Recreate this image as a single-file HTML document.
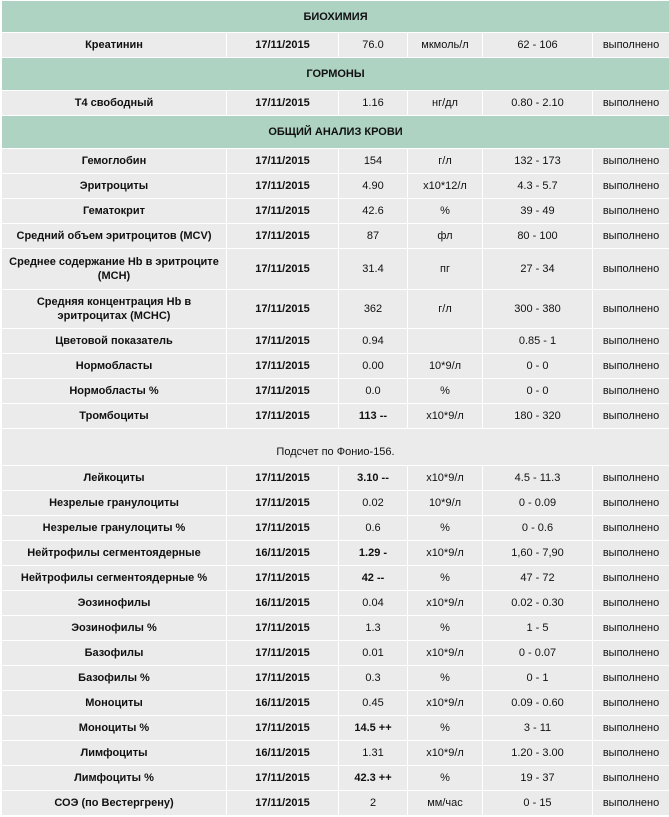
<!DOCTYPE html><html><head><meta charset="utf-8"><style>
body{margin:0;background:#fff;width:669px;height:817px;overflow:hidden}
table{border-collapse:separate;border-spacing:1px;margin-left:1px;width:667px;table-layout:fixed;font-family:"Liberation Sans",Arial,sans-serif;font-size:11px;color:#111}
td{background:#ebebeb;text-align:center;padding:0 4px;height:24px;line-height:14px}
tr.h td{background:#aed3c3;font-weight:bold;height:31px}
td:nth-child(1),td:nth-child(2){font-weight:bold}
.b{font-weight:bold}
tr.n td{font-weight:normal;vertical-align:bottom;padding-bottom:6px;height:30px}
</style></head><body><table>
<colgroup><col style="width:224px"><col style="width:111px"><col style="width:68px"><col style="width:74px"><col style="width:109px"><col style="width:76px"></colgroup>
<tr class="h"><td colspan="6">БИОХИМИЯ</td></tr>
<tr><td>Креатинин</td><td>17/11/2015</td><td>76.0</td><td>мкмоль/л</td><td>62 - 106</td><td>выполнено</td></tr>
<tr class="h"><td colspan="6" style="height:32px">ГОРМОНЫ</td></tr>
<tr><td>Т4 свободный</td><td>17/11/2015</td><td>1.16</td><td>нг/дл</td><td>0.80 - 2.10</td><td>выполнено</td></tr>
<tr class="h"><td colspan="6" style="height:32px">ОБЩИЙ АНАЛИЗ КРОВИ</td></tr>
<tr><td>Гемоглобин</td><td>17/11/2015</td><td>154</td><td>г/л</td><td>132 - 173</td><td>выполнено</td></tr>
<tr><td>Эритроциты</td><td>17/11/2015</td><td>4.90</td><td>x10*12/л</td><td>4.3 - 5.7</td><td>выполнено</td></tr>
<tr><td>Гематокрит</td><td>17/11/2015</td><td>42.6</td><td>%</td><td>39 - 49</td><td>выполнено</td></tr>
<tr><td>Средний объем эритроцитов (MCV)</td><td>17/11/2015</td><td>87</td><td>фл</td><td>80 - 100</td><td>выполнено</td></tr>
<tr><td style="height:40px">Среднее содержание Hb в эритроците (MCH)</td><td>17/11/2015</td><td>31.4</td><td>пг</td><td>27 - 34</td><td>выполнено</td></tr>
<tr><td style="height:38px;padding:0 30px">Средняя концентрация Hb в эритроцитах (MCHC)</td><td>17/11/2015</td><td>362</td><td>г/л</td><td>300 - 380</td><td>выполнено</td></tr>
<tr><td>Цветовой показатель</td><td>17/11/2015</td><td>0.94</td><td></td><td>0.85 - 1</td><td>выполнено</td></tr>
<tr><td>Нормобласты</td><td>17/11/2015</td><td>0.00</td><td>10*9/л</td><td>0 - 0</td><td>выполнено</td></tr>
<tr><td>Нормобласты %</td><td>17/11/2015</td><td>0.0</td><td>%</td><td>0 - 0</td><td>выполнено</td></tr>
<tr><td>Тромбоциты</td><td>17/11/2015</td><td class="b">113 --</td><td>x10*9/л</td><td>180 - 320</td><td>выполнено</td></tr>
<tr class="n"><td colspan="6">Подсчет по Фонио-156.</td></tr>
<tr><td>Лейкоциты</td><td>17/11/2015</td><td class="b">3.10 --</td><td>x10*9/л</td><td>4.5 - 11.3</td><td>выполнено</td></tr>
<tr><td>Незрелые гранулоциты</td><td>17/11/2015</td><td>0.02</td><td>10*9/л</td><td>0 - 0.09</td><td>выполнено</td></tr>
<tr><td>Незрелые гранулоциты %</td><td>17/11/2015</td><td>0.6</td><td>%</td><td>0 - 0.6</td><td>выполнено</td></tr>
<tr><td>Нейтрофилы сегментоядерные</td><td>16/11/2015</td><td class="b">1.29 -</td><td>x10*9/л</td><td>1,60 - 7,90</td><td>выполнено</td></tr>
<tr><td>Нейтрофилы сегментоядерные %</td><td>17/11/2015</td><td class="b">42 --</td><td>%</td><td>47 - 72</td><td>выполнено</td></tr>
<tr><td>Эозинофилы</td><td>16/11/2015</td><td>0.04</td><td>x10*9/л</td><td>0.02 - 0.30</td><td>выполнено</td></tr>
<tr><td>Эозинофилы %</td><td>17/11/2015</td><td>1.3</td><td>%</td><td>1 - 5</td><td>выполнено</td></tr>
<tr><td>Базофилы</td><td>17/11/2015</td><td>0.01</td><td>x10*9/л</td><td>0 - 0.07</td><td>выполнено</td></tr>
<tr><td>Базофилы %</td><td>17/11/2015</td><td>0.3</td><td>%</td><td>0 - 1</td><td>выполнено</td></tr>
<tr><td>Моноциты</td><td>16/11/2015</td><td>0.45</td><td>x10*9/л</td><td>0.09 - 0.60</td><td>выполнено</td></tr>
<tr><td>Моноциты %</td><td>17/11/2015</td><td class="b">14.5 ++</td><td>%</td><td>3 - 11</td><td>выполнено</td></tr>
<tr><td>Лимфоциты</td><td>16/11/2015</td><td>1.31</td><td>x10*9/л</td><td>1.20 - 3.00</td><td>выполнено</td></tr>
<tr><td>Лимфоциты %</td><td>17/11/2015</td><td class="b">42.3 ++</td><td>%</td><td>19 - 37</td><td>выполнено</td></tr>
<tr><td>СОЭ (по Вестергрену)</td><td>17/11/2015</td><td>2</td><td>мм/час</td><td>0 - 15</td><td>выполнено</td></tr>
</table></body></html>
